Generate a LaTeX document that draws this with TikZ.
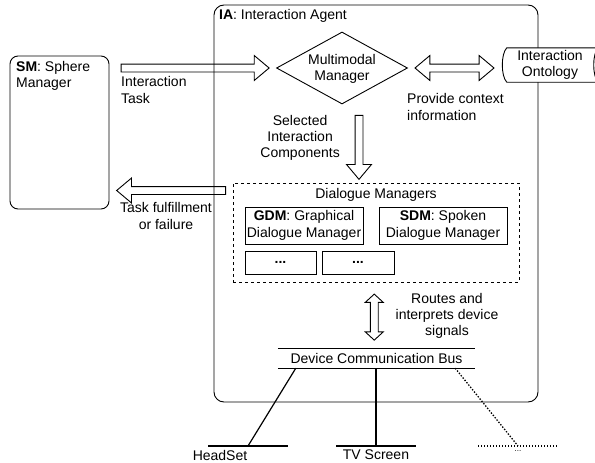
\documentclass[tikz,border=0pt]{standalone}
\usepackage{fontspec}
\setmainfont{Liberation Sans}
\usetikzlibrary{shapes.geometric,shapes.arrows,calc}
\begin{document}
\begin{tikzpicture}[x=1pt,y=-1pt,
  every node/.style={inner sep=0pt, font=\fontsize{14}{16.3}\selectfont},
  box/.style={draw, line width=0.9pt},
  blk/.style={draw, line width=0.9pt, single arrow, inner sep=3.5pt, minimum width=0pt,
     single arrow head extend=8.5pt, single arrow tip angle=80},
  dblk/.style={draw, line width=0.9pt, double arrow, inner sep=3.5pt, minimum width=0pt,
     double arrow head extend=8.5pt, double arrow tip angle=80},
  lead/.style={line width=1.2pt},
  dotl/.style={line width=1.3pt, dash pattern=on 1.4pt off 1.6pt}
]
\clip (0,0) rectangle (595,463);
\fill[white] (0,0) rectangle (595,463);

% Sphere Manager
\node[box, rounded corners=8pt, minimum width=99pt, minimum height=153pt] (sm) at (59.5,132.5) {};
\node[anchor=west, align=left] (smtxt) at (16,76) {\textbf{SM}: Sphere\\Manager};

% Interaction Agent
\node[box, rounded corners=10pt, minimum width=324pt, minimum height=397pt] (ia) at (376,203.5) {};
\node[anchor=west] (iatxt) at (219,16) {\textbf{IA}: Interaction Agent};

% Multimodal manager
\node[draw, line width=0.9pt, diamond, minimum width=131pt, minimum height=72pt] (mm) at (342,68) {};
\node[align=center] (mmtxt) at (342,69) {Multimodal\\Manager};

% Ontology
\node[minimum width=91pt, minimum height=34pt] (onto) at (552.5,65) {};
\draw[line width=0.9pt, fill=white] (onto.north west) -- (onto.north east)
   .. controls +(-6,6) and +(-6,-6) .. (onto.south east) -- (onto.south west)
   .. controls +(-6,-6) and +(-6,6) .. (onto.north west) -- cycle;
\node[align=center] (ontotxt) at (550,65) {Interaction\\Ontology};

% Dialogue managers
\node[draw, dashed, line width=0.9pt, minimum width=286pt, minimum height=99pt] (dm) at (376,232.5) {};
\node (dmtxt) at (376,195) {Dialogue Managers};
\node[box, minimum width=118pt, minimum height=37pt, align=center] (gdm) at (304,225.5) {\textbf{GDM}: Graphical\\Dialogue Manager};
\node[box, minimum width=128pt, minimum height=37pt, align=center] (sdm) at (443,225.5) {\textbf{SDM}: Spoken\\Dialogue Manager};
\node[box, minimum width=71pt, minimum height=23pt] (d1) at (280.5,262.5) {\textbf{...}};
\node[box, minimum width=72pt, minimum height=23pt] (d2) at (358,262.5) {\textbf{...}};

% Bus
\node[minimum width=197pt, minimum height=19pt] (bus) at (376.5,358.5) {Device Communication Bus};
\draw[lead] (bus.north west) -- (bus.north east);
\draw[lead] (bus.south west) -- (bus.south east);

% Block arrows
\node[blk, minimum height=148pt] (a1) at ($(sm.east|-mm.west)!0.5!(mm.west)$) {};
\node[anchor=west, align=left] (a1txt) at (121,90) {Interaction\\Task};

\node[dblk, minimum height=79pt] (a2) at (454.5,68) {};
\node[anchor=west, align=left] (a2txt) at (407,107) {Provide context\\information};

\node[blk, minimum height=64pt, shape border rotate=270] (a3) at ($(mm.south)!0.5!(dm.north)+(0,1.5)$) {};
\node[anchor=east, align=center] (a3txt) at (340,138) {Selected\\Interaction\\Components};

\node[blk, minimum height=109pt, shape border rotate=180] (a4) at (173.5,190.5) {};
\node[align=center] (a4txt) at (166,216) {Task fulfillment\\or failure};

\node[dblk, minimum height=46pt, shape border rotate=90, double arrow head extend=5pt, double arrow tip angle=95] (a5) at ($(dm.south)!0.5!(bus.north)+(-2,1.5)$) {};
\node[align=center] (a5txt) at (447,316) {Routes and\\interprets device\\signals};

% Devices
\coordinate (hs) at (248,446);
\coordinate (tv) at (376,446);
\coordinate (ot) at (518,446);
\draw[lead] ($(bus.south west)+(18,0)$) -- (hs);
\draw[lead] (208,446) -- (288,446);
\node (hstxt) at (220,455) {HeadSet};
\draw[lead] (tv|-bus.south) -- (tv);
\draw[lead] (336,446) -- (416,446);
\node (tvtxt) at (376,455) {TV Screen};
\draw[dotl] ($(bus.south east)+(-20,0)$) -- (ot);
\draw[dotl] (478,446) -- (557,446);
\node[font=\fontsize{8}{9}\selectfont] (ottxt) at (518,451) {...};
\end{tikzpicture}
\end{document}
